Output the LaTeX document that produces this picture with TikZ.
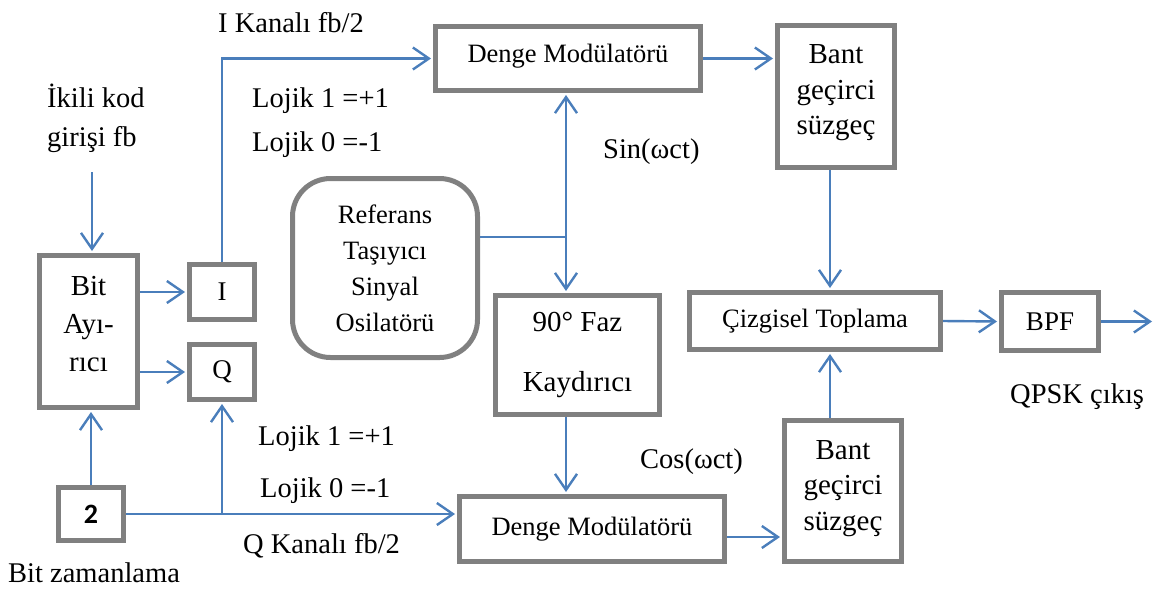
\documentclass[tikz,border=0pt]{standalone}
\usepackage{fontspec}
\setmainfont{Liberation Serif}
\newfontfamily\calib{Carlito}
\usetikzlibrary{arrows.meta,positioning}
\definecolor{lineblue}{RGB}{74,126,187}
\definecolor{boxgray}{RGB}{128,128,128}

\begin{document}
\begin{tikzpicture}[x=1pt,y=-1pt,
    box/.style={draw=boxgray,line width=5pt,inner sep=0pt,align=center,font=\fontsize{29}{35.5}\selectfont},
    lbl/.style={inner sep=0pt,font=\fontsize{28.5}{34}\selectfont},
    wire/.style={draw=lineblue,line width=2.4pt},
    conn/.style={wire,shorten >=2pt,-{Straight Barb[length=16pt,width=22pt]}}]
    \useasboundingbox (0,0) rectangle (1153,590);
    \node[box,minimum width=98pt,minimum height=152pt,font=\fontsize{29}{38}\selectfont,text depth=16pt] (bit) at (88.5,331.5) {Bit\\Ayı-\\rıcı};
    \node[box,minimum width=65pt,minimum height=55pt,font=\fontsize{27}{30}\selectfont] (ibox) at (222,292) {I};
    \node[box,minimum width=65pt,minimum height=55pt,font=\fontsize{27}{30}\selectfont] (qbox) at (222,372) {Q};
    \node[box,minimum width=65pt,minimum height=53pt,font=\calib\bfseries\fontsize{28}{30}\selectfont] (two) at (91,514) {2};
    \node[box,rounded corners=38pt,minimum width=185pt,minimum height=179pt,font=\fontsize{26.5}{36}\selectfont] (ref) at (385,268) {Referans\\Taşıyıcı\\Sinyal\\Osilatörü};
    \node[box,minimum width=265pt,minimum height=64pt,font=\fontsize{26.5}{30}\selectfont,text depth=10pt] (dmI) at (568,58.5) {Denge Modülatörü};
    \node[box,minimum width=117pt,minimum height=142pt,text depth=14pt] (bpfI) at (836,96.5) {Bant\\geçirci\\süzgeç};
    \node[box,minimum width=164pt,minimum height=119pt] (faz) at (577.5,355) {90° Faz\\[24.5pt]Kaydırıcı};
    \node[box,minimum width=265pt,minimum height=65pt,font=\fontsize{26.5}{30}\selectfont] (dmQ) at (592,529) {Denge Modülatörü};
    \node[box,minimum width=117pt,minimum height=141pt,text depth=12pt] (bpfQ) at (843,491) {Bant\\geçirci\\süzgeç};
    \node[box,minimum width=251pt,minimum height=57pt,font=\fontsize{26.5}{30}\selectfont] (sum) at (815,321) {Çizgisel Toplama};
    \node[box,minimum width=97pt,minimum height=58pt,font=\fontsize{27}{30}\selectfont] (bpf) at (1050,321.5) {BPF};
    \node[lbl,anchor=base west] (ikiliA) at (47,107) {İkili kod};
    \node[lbl,anchor=base west] (ikiliB) at (47,146) {girişi fb};
    \node[lbl,anchor=base west] (ikanal) at (218,32) {I Kanalı fb/2};
    \node[lbl,anchor=base west] (lojIa) at (252,107) {Lojik 1 =+1};
    \node[lbl,anchor=base west] (lojIb) at (252,151) {Lojik 0 =-1};
    \node[lbl,anchor=base west] (sin) at (603,158) {Sin(ωct)};
    \node[lbl,anchor=base west] (lojQa) at (258,445) {Lojik 1 =+1};
    \node[lbl,anchor=base west] (lojQb) at (260,497) {Lojik 0 =-1};
    \node[lbl,anchor=base west] (qkanal) at (243,553) {Q Kanalı fb/2};
    \node[lbl,anchor=base west] (bitzam) at (8,582) {Bit zamanlama};
    \node[lbl,anchor=base west] (cos) at (640,468) {Cos(ωct)};
    \node[lbl,anchor=base west] (qpsk) at (1010,403) {QPSK çıkış};
    \coordinate (inTop) at (92,172);
    \coordinate (jq) at (qbox.south |- two.east);
    \coordinate (vx) at (830,0);
    \coordinate (jref) at (566,237);
    \coordinate (out) at (1154,321.5);
    \draw[conn] (inTop) -- (inTop |- bit.north);
    \draw[conn] (bit.east |- ibox.west) -- (ibox.west);
    \draw[conn] (bit.east |- qbox.west) -- (qbox.west);
    \draw[conn] (ibox.north) |- (dmI.west);
    \draw[conn] (two.north) -- (two.north |- bit.south);
    \draw[conn] (two.east) -| (qbox.south);
    \draw[conn] (jq) -- (jq -| dmQ.west);
    \draw[conn] (dmI.east) -- (dmI.east -| bpfI.west);
    \draw[conn] (vx |- bpfI.south) -- (vx |- sum.north);
    \draw[conn] (vx |- bpfQ.north) -- (vx |- sum.south);
    \draw[conn] (sum.east) -- (bpf.west);
    \draw[conn] (bpf.east) -- (out);
    \draw[conn] ([yshift=-8pt]dmQ.east) -- ([yshift=-8pt]dmQ.east -| bpfQ.west);
    \draw[wire] (ref.east |- jref) -- (jref);
    \draw[conn] (jref) -- (jref |- dmI.south);
    \draw[conn] (jref) -- (jref |- faz.north);
    \draw[conn] (jref |- faz.south) -- (jref |- dmQ.north);
\end{tikzpicture}
\end{document}
